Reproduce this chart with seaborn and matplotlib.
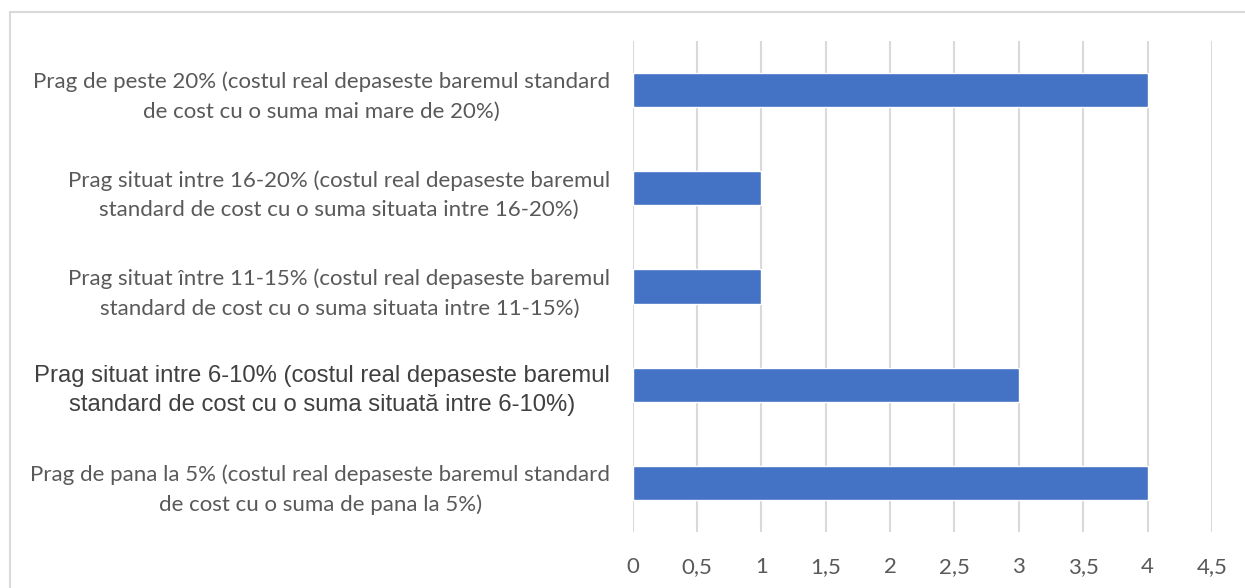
import matplotlib
matplotlib.use("Agg")
import matplotlib.pyplot as plt
from matplotlib.patches import Rectangle
import seaborn as sns

# Data
categories = [
    "Prag de peste 20% (costul real depaseste baremul standard\nde cost cu o suma mai mare de 20%)",
    "Prag situat intre 16-20% (costul real depaseste baremul\nstandard de cost cu o suma situata intre 16-20%)",
    "Prag situat între 11-15% (costul real depaseste baremul\nstandard de cost cu o suma situata intre 11-15%)",
    "Prag situat intre 6-10% (costul real depaseste baremul\nstandard de cost cu o suma situată intre 6-10%)",
    "Prag de pana la 5% (costul real depaseste baremul standard\nde cost cu o suma de pana la 5%)",
]
values = [4, 1, 1, 3, 4]
xticks = [0, 0.5, 1, 1.5, 2, 2.5, 3, 3.5, 4, 4.5]
xtick_labels = ["0", "0,5", "1", "1,5", "2", "2,5", "3", "3,5", "4", "4,5"]

sns.set_style("white")
plt.rcParams["font.family"] = ["Lato", "DejaVu Sans"]

fig = plt.figure(figsize=(12.45, 5.88), dpi=100)
ax = fig.add_axes([632.5 / 1245, 1 - 532 / 588, (1212 - 632.5) / 1245, (532 - 41) / 588])

sns.barplot(x=values, y=categories, orient="h", color="#4472C4",
            width=0.35, saturation=1, ax=ax)

ax.set_xlim(0, 4.5)
ax.set_ylim(4.5, -0.5)
ax.set_xticks(xticks)
ax.set_xticklabels(xtick_labels)
ax.grid(axis="x", color="#d9d9d9", linewidth=1.5)
ax.set_axisbelow(True)
for s in ax.spines.values():
    s.set_visible(False)
ax.tick_params(axis="both", length=0, colors="#595959", labelsize=16)
ax.tick_params(axis="x", pad=18)
ax.tick_params(axis="y", pad=16)
ax.set_xlabel("")
ax.set_ylabel("")

for i, lab in enumerate(ax.get_yticklabels()):
    lab.set_multialignment("center")
    lab.set_linespacing(1.6)
    if i == 3:
        lab.set_family("Liberation Sans")
        lab.set_fontsize(17.2)
        lab.set_linespacing(1.4)
        lab.set_color("#404040")

# outer frame of the chart area
fig.patches.append(Rectangle((10 / 1245, -0.1), 1.2, 1.1 - 12 / 588,
                             transform=fig.transFigure, fill=False,
                             edgecolor="#d9d9d9", linewidth=1.5))

fig.savefig("out.png", dpi=100)
